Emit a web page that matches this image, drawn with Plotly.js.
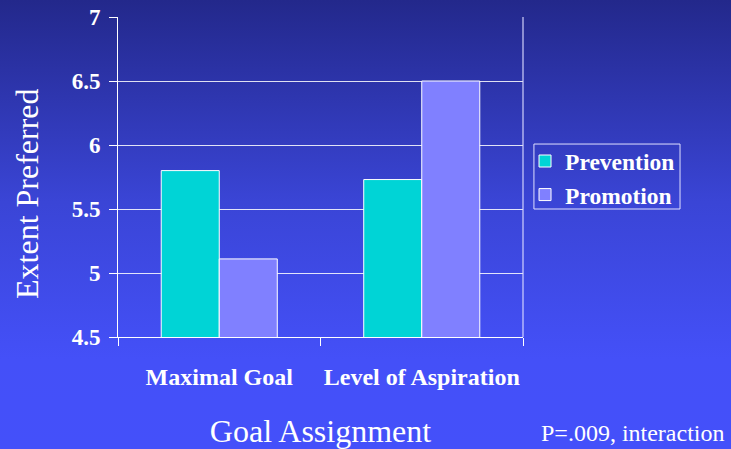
<!DOCTYPE html>
<html>
<head>
<meta charset="utf-8">
<script src="https://cdn.plot.ly/plotly-3.0.1.min.js"></script>
<style>
html,body{margin:0;padding:0;}
body{width:731px;height:449px;background:linear-gradient(to bottom,#23288b 0%,#3a45d6 45%,#4450f8 80%,#4450fa 100%);}
#chart{width:731px;height:449px;}
</style>
</head>
<body>
<div id="chart"></div>
<script>
const categories = ["Maximal Goal", "Level of Aspiration"];
const preventionValues = [5.8, 5.73];
const promotionValues = [5.11, 6.5];
const seriesNames = ["Prevention", "Promotion"];
const yTickValues = [4.5, 5, 5.5, 6, 6.5, 7];
const yTickLabels = ["4.5", "5", "5.5", "6", "6.5", "7"];
const xTitle = "Goal Assignment";
const yTitle = "Extent Preferred";
const noteText = "P=.009, interaction";

const serif = "Liberation Serif, Times New Roman, serif";

const data = [
  {type: "bar", name: seriesNames[0], x: categories, y: preventionValues,
   marker: {color: "#00d4d6", line: {color: "#ffffff", width: 1}}},
  {type: "bar", name: seriesNames[1], x: categories, y: promotionValues,
   marker: {color: "#8080ff", line: {color: "#ffffff", width: 1}}}
];

const layout = {
  width: 731, height: 449,
  margin: {l: 118, r: 208, t: 17, b: 112, pad: 0},
  paper_bgcolor: "rgba(0,0,0,0)",
  plot_bgcolor: "rgba(0,0,0,0)",
  barmode: "group",
  bargap: 0.427,
  bargroupgap: 0,
  showlegend: true,
  legend: {
    x: 1.005, y: 0.618, xanchor: "left", yanchor: "top",
    bgcolor: "rgba(0,0,0,0)", borderwidth: 0,
    font: {family: serif, size: 23.5, color: "#ffffff", weight: "bold"},
    tracegroupgap: 0
  },
  xaxis: {
    type: "category",
    tickson: "boundaries",
    ticks: "outside", ticklen: 8, tickcolor: "#ffffff", tickwidth: 1,
    showline: true, linecolor: "#ffffff", linewidth: 1,
    showgrid: false, zeroline: false,
    tickangle: 0,
    tickfont: {family: serif, size: 24, color: "#ffffff", weight: "bold"},
    ticklabelstandoff: 18,
    title: {text: xTitle, font: {family: serif, size: 32, color: "#ffffff"}, standoff: 32},
    automargin: false, fixedrange: true
  },
  yaxis: {
    range: [4.5, 7],
    tickvals: yTickValues, ticktext: yTickLabels,
    ticks: "outside", ticklen: 8, tickcolor: "#ffffff", tickwidth: 1,
    showline: true, linecolor: "#ffffff", linewidth: 1,
    showgrid: true, gridcolor: "rgba(255,255,255,0.85)", gridwidth: 1,
    zeroline: false,
    tickfont: {family: serif, size: 23, color: "#ffffff", weight: "bold"},
    ticklabelstandoff: 4,
    automargin: false, fixedrange: true
  },
  shapes: [
    {type: "line", xref: "paper", yref: "paper", x0: 1, x1: 1, y0: 0, y1: 1,
     line: {color: "rgba(220,220,255,0.75)", width: 1.5}},
    {type: "rect", xref: "paper", yref: "paper", x0: 1.027, x1: 1.3877, y0: 0.4, y1: 0.603,
     line: {color: "#e0e0ff", width: 1}, fillcolor: "rgba(0,0,0,0)"}
  ],
  annotations: [
    {text: yTitle, xref: "paper", yref: "paper", x: -0.2247, y: 0.45,
     xanchor: "center", yanchor: "middle", textangle: -90, showarrow: false,
     font: {family: serif, size: 32, color: "#ffffff"}},
    {text: noteText, xref: "paper", yref: "paper", x: 1.504, y: -0.3,
     xanchor: "right", yanchor: "middle", showarrow: false,
     font: {family: serif, size: 24, color: "#ffffff"}}
  ]
};

Plotly.newPlot("chart", data, layout, {displayModeBar: false, staticPlot: true});
</script>
</body>
</html>
